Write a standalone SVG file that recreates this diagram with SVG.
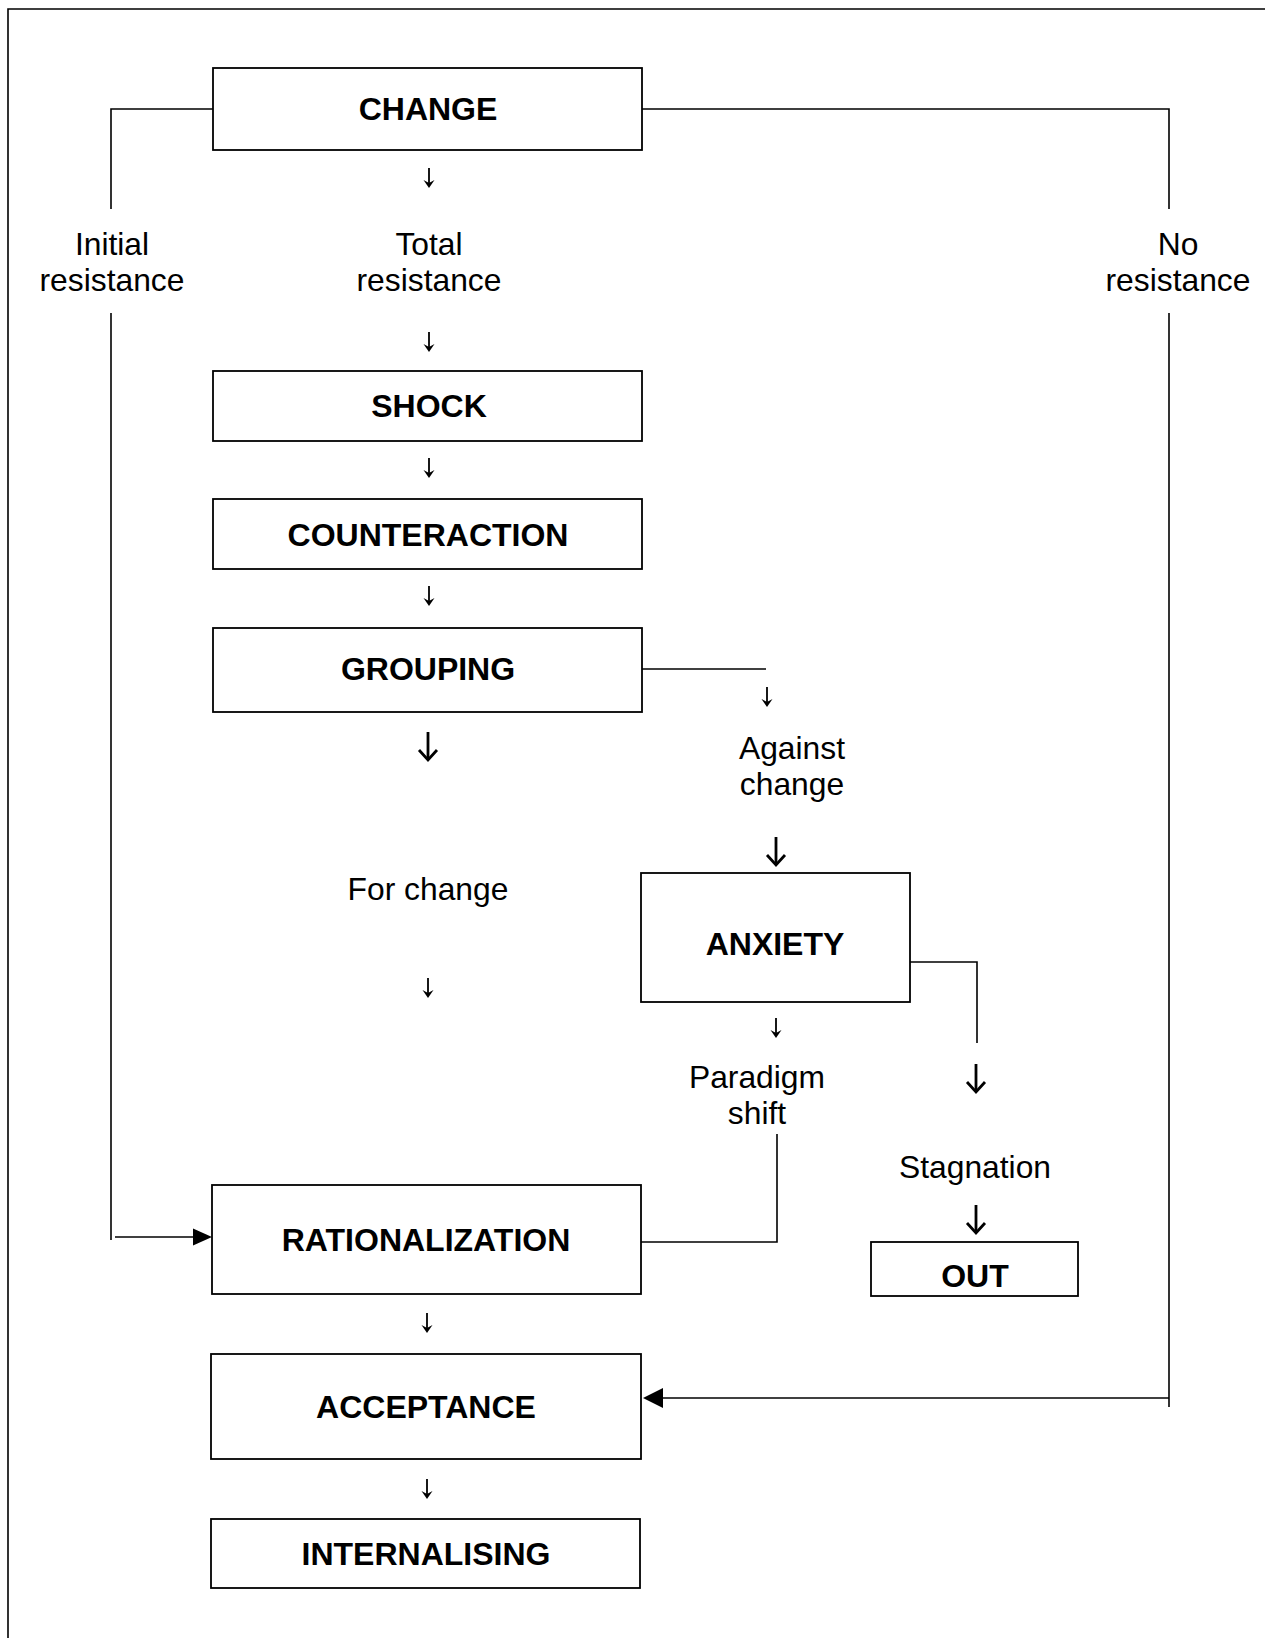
<svg xmlns="http://www.w3.org/2000/svg" xmlns:xlink="http://www.w3.org/1999/xlink" width="1265" height="1638" viewBox="0 0 1265 1638">
<style>
.box{fill:#fff;stroke:#000;stroke-width:1.8}
.lbl{font-family:"Liberation Sans",Arial,sans-serif;font-weight:bold;font-size:32px;text-anchor:middle;fill:#000}
.txt{font-family:"Liberation Sans",Arial,sans-serif;font-size:31.8px;text-anchor:middle;fill:#000}
.ln{fill:none;stroke:#000;stroke-width:1.6}
</style>
<defs>
<g id="sa"><line x1="0" y1="-20" x2="0" y2="-2" stroke="#000" stroke-width="1.8"/><path d="M-5.5,-8 L0,0 L5.5,-8 L0,-5 Z" fill="#000"/></g>
<g id="ba"><line x1="0" y1="-28" x2="0" y2="-1" stroke="#000" stroke-width="2.8"/><path d="M-9,-10 L0,0 L9,-10" fill="none" stroke="#000" stroke-width="2.8"/></g>
</defs>
<rect width="1265" height="1638" fill="#fff"/>
<g id="frame"><path class="ln" d="M8,1638 L8,9 L1265,9"/></g>
<g id="connectors">
<path class="ln" d="M213,109 L111,109 L111,209"/>
<path class="ln" d="M111,313 L111,1240"/>
<line class="ln" x1="115" y1="1237" x2="196" y2="1237"/>
<path d="M212,1237 L193,1228.5 L193,1245.5 Z" fill="#000"/>
<path class="ln" d="M642,109 L1169,109 L1169,209"/>
<path class="ln" d="M1169,313 L1169,1407"/>
<line class="ln" x1="1169" y1="1398" x2="660" y2="1398"/>
<path d="M643,1398 L663,1388 L663,1408 Z" fill="#000"/>
<path class="ln" d="M642,669 L766,669"/>
<path class="ln" d="M910,962 L977,962 L977,1043"/>
<path class="ln" d="M777,1134 L777,1242 L641,1242"/>
<use xlink:href="#sa" x="429" y="188"/>
<use xlink:href="#sa" x="429" y="352"/>
<use xlink:href="#sa" x="429" y="478"/>
<use xlink:href="#sa" x="429" y="606"/>
<use xlink:href="#ba" x="428" y="760"/>
<use xlink:href="#sa" x="428" y="998"/>
<use xlink:href="#sa" x="767" y="707"/>
<use xlink:href="#ba" x="776" y="865"/>
<use xlink:href="#sa" x="776" y="1038"/>
<use xlink:href="#ba" x="976" y="1092"/>
<use xlink:href="#ba" x="976" y="1233"/>
<use xlink:href="#sa" x="427" y="1333"/>
<use xlink:href="#sa" x="427" y="1499"/>
</g>
<g id="n-change"><rect class="box" x="213" y="68" width="429" height="82"/><text class="lbl" x="428" y="120">CHANGE</text></g>
<g id="n-shock"><rect class="box" x="213" y="371" width="429" height="70"/><text class="lbl" x="429" y="417">SHOCK</text></g>
<g id="n-counteraction"><rect class="box" x="213" y="499" width="429" height="70"/><text class="lbl" x="428" y="546">COUNTERACTION</text></g>
<g id="n-grouping"><rect class="box" x="213" y="628" width="429" height="84"/><text class="lbl" x="428" y="680">GROUPING</text></g>
<g id="n-anxiety"><rect class="box" x="641" y="873" width="269" height="129"/><text class="lbl" x="775" y="955">ANXIETY</text></g>
<g id="n-rationalization"><rect class="box" x="212" y="1185" width="429" height="109"/><text class="lbl" x="426" y="1251">RATIONALIZATION</text></g>
<g id="n-acceptance"><rect class="box" x="211" y="1354" width="430" height="105"/><text class="lbl" x="426" y="1418">ACCEPTANCE</text></g>
<g id="n-internalising"><rect class="box" x="211" y="1519" width="429" height="69"/><text class="lbl" x="426" y="1565">INTERNALISING</text></g>
<g id="n-out"><rect class="box" x="871" y="1242" width="207" height="54"/><text class="lbl" x="975" y="1287">OUT</text></g>
<g id="labels">
<text class="txt" x="112" y="255">Initial</text>
<text class="txt" x="112" y="291">resistance</text>
<text class="txt" x="429" y="255">Total</text>
<text class="txt" x="429" y="291">resistance</text>
<text class="txt" x="1178" y="255">No</text>
<text class="txt" x="1178" y="291">resistance</text>
<text class="txt" x="792" y="759">Against</text>
<text class="txt" x="792" y="795">change</text>
<text class="txt" x="428" y="900">For change</text>
<text class="txt" x="757" y="1088">Paradigm</text>
<text class="txt" x="757" y="1124">shift</text>
<text class="txt" x="975" y="1178">Stagnation</text>
</g>
</svg>
